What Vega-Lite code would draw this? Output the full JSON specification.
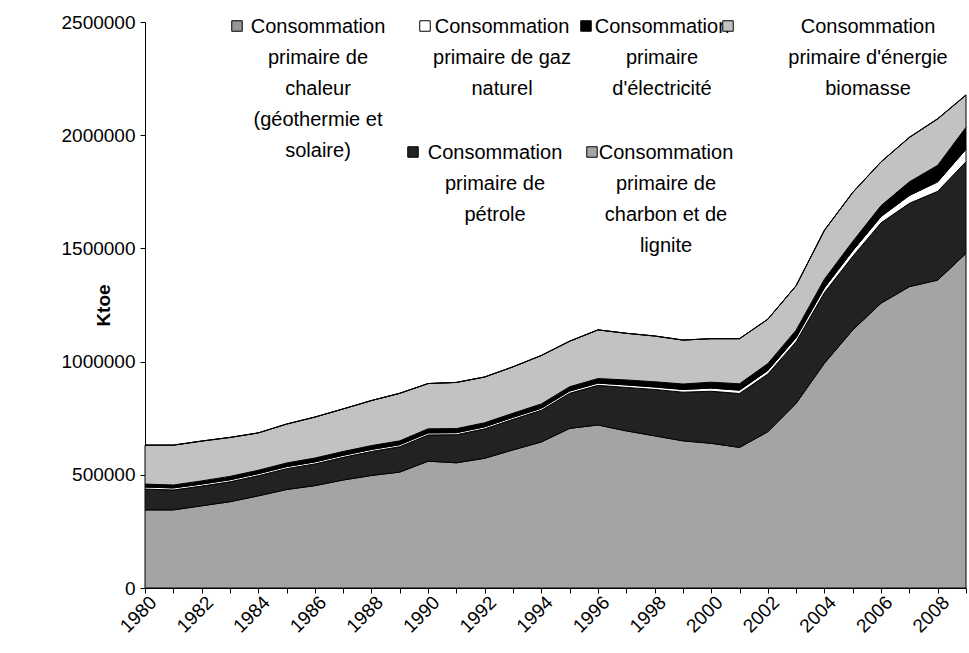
{
  "$schema": "https://vega.github.io/schema/vega-lite/v6.json",
  "width": 821,
  "height": 566,
  "autosize": {"type": "none"},
  "padding": {"left": 145, "top": 22, "right": 3, "bottom": 65},
  "background": "white",
  "config": {
    "font": "Liberation Sans",
    "view": {"stroke": null},
    "axis": {"labelFont": "Liberation Sans", "titleFont": "Liberation Sans", "labelColor": "black", "titleColor": "black", "domainColor": "black", "tickColor": "black", "grid": false},
    "legend": {"labelFont": "Liberation Sans", "labelColor": "black"}
  },
  "datasets": {
    "series": [
      {"s": "charbon", "rang": 1},
      {"s": "petrole", "rang": 2},
      {"s": "gaz", "rang": 3},
      {"s": "electricite", "rang": 4},
      {"s": "biomasse", "rang": 5},
      {"s": "chaleur", "rang": 6}
    ]
  },
  "data": {"values": [
    {"year":1980,"s":"charbon","v":345000},{"year":1980,"s":"petrole","v":92000},{"year":1980,"s":"gaz","v":9000},{"year":1980,"s":"electricite","v":13000},{"year":1980,"s":"biomasse","v":172000},{"year":1980,"s":"chaleur","v":0},
    {"year":1981,"s":"charbon","v":345000},{"year":1981,"s":"petrole","v":88000},{"year":1981,"s":"gaz","v":9000},{"year":1981,"s":"electricite","v":13000},{"year":1981,"s":"biomasse","v":176000},{"year":1981,"s":"chaleur","v":0},
    {"year":1982,"s":"charbon","v":363000},{"year":1982,"s":"petrole","v":87000},{"year":1982,"s":"gaz","v":9000},{"year":1982,"s":"electricite","v":14000},{"year":1982,"s":"biomasse","v":176000},{"year":1982,"s":"chaleur","v":0},
    {"year":1983,"s":"charbon","v":381000},{"year":1983,"s":"petrole","v":88000},{"year":1983,"s":"gaz","v":9000},{"year":1983,"s":"electricite","v":15000},{"year":1983,"s":"biomasse","v":172000},{"year":1983,"s":"chaleur","v":0},
    {"year":1984,"s":"charbon","v":407000},{"year":1984,"s":"petrole","v":89000},{"year":1984,"s":"gaz","v":9000},{"year":1984,"s":"electricite","v":15000},{"year":1984,"s":"biomasse","v":165000},{"year":1984,"s":"chaleur","v":0},
    {"year":1985,"s":"charbon","v":435000},{"year":1985,"s":"petrole","v":92000},{"year":1985,"s":"gaz","v":9000},{"year":1985,"s":"electricite","v":16000},{"year":1985,"s":"biomasse","v":172000},{"year":1985,"s":"chaleur","v":0},
    {"year":1986,"s":"charbon","v":452000},{"year":1986,"s":"petrole","v":96000},{"year":1986,"s":"gaz","v":9000},{"year":1986,"s":"electricite","v":17000},{"year":1986,"s":"biomasse","v":181000},{"year":1986,"s":"chaleur","v":0},
    {"year":1987,"s":"charbon","v":477000},{"year":1987,"s":"petrole","v":100000},{"year":1987,"s":"gaz","v":9000},{"year":1987,"s":"electricite","v":17000},{"year":1987,"s":"biomasse","v":188000},{"year":1987,"s":"chaleur","v":0},
    {"year":1988,"s":"charbon","v":497000},{"year":1988,"s":"petrole","v":106000},{"year":1988,"s":"gaz","v":9000},{"year":1988,"s":"electricite","v":17000},{"year":1988,"s":"biomasse","v":199000},{"year":1988,"s":"chaleur","v":0},
    {"year":1989,"s":"charbon","v":512000},{"year":1989,"s":"petrole","v":112000},{"year":1989,"s":"gaz","v":9000},{"year":1989,"s":"electricite","v":17000},{"year":1989,"s":"biomasse","v":210000},{"year":1989,"s":"chaleur","v":0},
    {"year":1990,"s":"charbon","v":560000},{"year":1990,"s":"petrole","v":116000},{"year":1990,"s":"gaz","v":9000},{"year":1990,"s":"electricite","v":18000},{"year":1990,"s":"biomasse","v":200000},{"year":1990,"s":"chaleur","v":100},
    {"year":1991,"s":"charbon","v":553000},{"year":1991,"s":"petrole","v":124000},{"year":1991,"s":"gaz","v":9000},{"year":1991,"s":"electricite","v":18000},{"year":1991,"s":"biomasse","v":204000},{"year":1991,"s":"chaleur","v":100},
    {"year":1992,"s":"charbon","v":573000},{"year":1992,"s":"petrole","v":130000},{"year":1992,"s":"gaz","v":9000},{"year":1992,"s":"electricite","v":18000},{"year":1992,"s":"biomasse","v":202000},{"year":1992,"s":"chaleur","v":150},
    {"year":1993,"s":"charbon","v":610000},{"year":1993,"s":"petrole","v":135000},{"year":1993,"s":"gaz","v":9000},{"year":1993,"s":"electricite","v":18000},{"year":1993,"s":"biomasse","v":205000},{"year":1993,"s":"chaleur","v":150},
    {"year":1994,"s":"charbon","v":645000},{"year":1994,"s":"petrole","v":140000},{"year":1994,"s":"gaz","v":9000},{"year":1994,"s":"electricite","v":19000},{"year":1994,"s":"biomasse","v":214000},{"year":1994,"s":"chaleur","v":200},
    {"year":1995,"s":"charbon","v":705000},{"year":1995,"s":"petrole","v":155000},{"year":1995,"s":"gaz","v":10000},{"year":1995,"s":"electricite","v":19000},{"year":1995,"s":"biomasse","v":201000},{"year":1995,"s":"chaleur","v":250},
    {"year":1996,"s":"charbon","v":720000},{"year":1996,"s":"petrole","v":175000},{"year":1996,"s":"gaz","v":10000},{"year":1996,"s":"electricite","v":20000},{"year":1996,"s":"biomasse","v":215000},{"year":1996,"s":"chaleur","v":300},
    {"year":1997,"s":"charbon","v":694000},{"year":1997,"s":"petrole","v":192000},{"year":1997,"s":"gaz","v":11000},{"year":1997,"s":"electricite","v":22000},{"year":1997,"s":"biomasse","v":206000},{"year":1997,"s":"chaleur","v":350},
    {"year":1998,"s":"charbon","v":672000},{"year":1998,"s":"petrole","v":205000},{"year":1998,"s":"gaz","v":11000},{"year":1998,"s":"electricite","v":23000},{"year":1998,"s":"biomasse","v":202000},{"year":1998,"s":"chaleur","v":400},
    {"year":1999,"s":"charbon","v":650000},{"year":1999,"s":"petrole","v":215000},{"year":1999,"s":"gaz","v":12000},{"year":1999,"s":"electricite","v":24000},{"year":1999,"s":"biomasse","v":194000},{"year":1999,"s":"chaleur","v":450},
    {"year":2000,"s":"charbon","v":639000},{"year":2000,"s":"petrole","v":230000},{"year":2000,"s":"gaz","v":14000},{"year":2000,"s":"electricite","v":26000},{"year":2000,"s":"biomasse","v":192000},{"year":2000,"s":"chaleur","v":500},
    {"year":2001,"s":"charbon","v":621000},{"year":2001,"s":"petrole","v":238000},{"year":2001,"s":"gaz","v":15000},{"year":2001,"s":"electricite","v":28000},{"year":2001,"s":"biomasse","v":199000},{"year":2001,"s":"chaleur","v":550},
    {"year":2002,"s":"charbon","v":690000},{"year":2002,"s":"petrole","v":255000},{"year":2002,"s":"gaz","v":16000},{"year":2002,"s":"electricite","v":30000},{"year":2002,"s":"biomasse","v":196000},{"year":2002,"s":"chaleur","v":600},
    {"year":2003,"s":"charbon","v":816000},{"year":2003,"s":"petrole","v":272000},{"year":2003,"s":"gaz","v":18000},{"year":2003,"s":"electricite","v":33000},{"year":2003,"s":"biomasse","v":196000},{"year":2003,"s":"chaleur","v":700},
    {"year":2004,"s":"charbon","v":993000},{"year":2004,"s":"petrole","v":312000},{"year":2004,"s":"gaz","v":21000},{"year":2004,"s":"electricite","v":38000},{"year":2004,"s":"biomasse","v":216000},{"year":2004,"s":"chaleur","v":800},
    {"year":2005,"s":"charbon","v":1140000},{"year":2005,"s":"petrole","v":325000},{"year":2005,"s":"gaz","v":25000},{"year":2005,"s":"electricite","v":41000},{"year":2005,"s":"biomasse","v":216000},{"year":2005,"s":"chaleur","v":900},
    {"year":2006,"s":"charbon","v":1258000},{"year":2006,"s":"petrole","v":355000},{"year":2006,"s":"gaz","v":28000},{"year":2006,"s":"electricite","v":48000},{"year":2006,"s":"biomasse","v":193000},{"year":2006,"s":"chaleur","v":1000},
    {"year":2007,"s":"charbon","v":1331000},{"year":2007,"s":"petrole","v":368000},{"year":2007,"s":"gaz","v":35000},{"year":2007,"s":"electricite","v":60000},{"year":2007,"s":"biomasse","v":196000},{"year":2007,"s":"chaleur","v":1100},
    {"year":2008,"s":"charbon","v":1360000},{"year":2008,"s":"petrole","v":392000},{"year":2008,"s":"gaz","v":42000},{"year":2008,"s":"electricite","v":73000},{"year":2008,"s":"biomasse","v":205000},{"year":2008,"s":"chaleur","v":1200},
    {"year":2009,"s":"charbon","v":1478000},{"year":2009,"s":"petrole","v":405000},{"year":2009,"s":"gaz","v":55000},{"year":2009,"s":"electricite","v":97000},{"year":2009,"s":"biomasse","v":142000},{"year":2009,"s":"chaleur","v":1300}
  ]},
  "transform": [
    {"lookup": "s", "from": {"data": {"name": "series"}, "key": "s", "fields": ["rang"]}}
  ],
  "encoding": {
    "x": {"field": "year", "type": "quantitative",
      "scale": {"domain": [1980, 2009], "nice": false, "zero": false},
      "axis": {"title": null, "values": [1980,1981,1982,1983,1984,1985,1986,1987,1988,1989,1990,1991,1992,1993,1994,1995,1996,1997,1998,1999,2000,2001,2002,2003,2004,2005,2006,2007,2008,2009],
        "format": "d", "labelExpr": "datum.value % 2 == 0 ? datum.label : ''",
        "labelAngle": -45, "labelAlign": "right", "labelBaseline": "middle", "labelFontSize": 19, "labelPadding": 6, "labelOffset": 8,
        "tickSize": 5, "labelOverlap": false, "labelBound": false, "labelFlush": false}},
    "y": {"field": "v", "type": "quantitative",
      "scale": {"domain": [0, 2500000], "nice": false},
      "axis": {"title": "Ktoe", "values": [0, 500000, 1000000, 1500000, 2000000, 2500000], "format": "d",
        "labelFontSize": 19, "labelPadding": 5, "tickSize": 5, "labelOverlap": false,
        "titleFontSize": 19, "titleFontWeight": "bold", "titleAngle": -90, "titleX": -42, "titleY": 283, "titleAlign": "center", "titleBaseline": "middle"}}
  },
  "layer": [
    {
      "mark": {"type": "area", "stroke": "black", "strokeWidth": 1, "interpolate": "linear"},
      "encoding": {
        "y": {"field": "v", "type": "quantitative", "stack": "zero"},
        "order": {"field": "rang", "type": "quantitative", "sort": "ascending"},
        "color": {"field": "s", "type": "nominal",
          "scale": {"domain": ["charbon","petrole","gaz","electricite","biomasse","chaleur"], "range": ["#a4a4a4","#222222","#ffffff","#000000","#c2c2c2","#969696"]},
          "legend": null}
      }
    },
    {
      "mark": {"type": "square", "opacity": 0},
      "encoding": {
        "color": {"field": "s", "type": "nominal",
          "scale": {"domain": ["charbon","petrole","gaz","electricite","biomasse","chaleur"], "range": ["#a4a4a4","#222222","#ffffff","#000000","#c2c2c2","#969696"]},
          "legend": {"values": ["chaleur"], "orient": "none", "legendX": 82, "legendY": -6, "title": null, "padding": 0,
            "symbolType": "square", "symbolSize": 110, "symbolOpacity": 1, "symbolStrokeColor": "black", "symbolStrokeWidth": 1,
            "labelFontSize": 20, "labelAlign": "center", "labelBaseline": "alphabetic", "labelLimit": 400, "labelOffset": 71,
            "labelExpr": "['Consommation','primaire de','chaleur','(géothermie et','solaire)']",
            "encode": {"labels": {"update": {"lineHeight": {"value": 31}, "dy": {"value": 7}}}}}}
      }
    },
    {
      "mark": {"type": "square", "opacity": 0},
      "encoding": {
        "color": {"field": "s", "type": "nominal",
          "scale": {"domain": ["charbon","petrole","gaz","electricite","biomasse","chaleur"], "range": ["#a4a4a4","#222222","#ffffff","#000000","#c2c2c2","#969696"]},
          "legend": {"values": ["gaz"], "orient": "none", "legendX": 270, "legendY": -6, "title": null, "padding": 0,
            "symbolType": "square", "symbolSize": 110, "symbolOpacity": 1, "symbolStrokeColor": "black", "symbolStrokeWidth": 1,
            "labelFontSize": 20, "labelAlign": "center", "labelBaseline": "alphabetic", "labelLimit": 400, "labelOffset": 67,
            "labelExpr": "['Consommation','primaire de gaz','naturel']",
            "encode": {"labels": {"update": {"lineHeight": {"value": 31}, "dy": {"value": 7}}}}}}
      }
    },
    {
      "mark": {"type": "square", "opacity": 0},
      "encoding": {
        "color": {"field": "s", "type": "nominal",
          "scale": {"domain": ["charbon","petrole","gaz","electricite","biomasse","chaleur"], "range": ["#a4a4a4","#222222","#ffffff","#000000","#c2c2c2","#969696"]},
          "legend": {"values": ["electricite"], "orient": "none", "legendX": 431, "legendY": -6, "title": null, "padding": 0,
            "symbolType": "square", "symbolSize": 110, "symbolOpacity": 1, "symbolStrokeColor": "black", "symbolStrokeWidth": 1,
            "labelFontSize": 20, "labelAlign": "center", "labelBaseline": "alphabetic", "labelLimit": 400, "labelOffset": 66,
            "labelExpr": "['Consommation','primaire',\"d'électricité\"]",
            "encode": {"labels": {"update": {"lineHeight": {"value": 31}, "dy": {"value": 7}}}}}}
      }
    },
    {
      "mark": {"type": "square", "opacity": 0},
      "encoding": {
        "color": {"field": "s", "type": "nominal",
          "scale": {"domain": ["charbon","petrole","gaz","electricite","biomasse","chaleur"], "range": ["#a4a4a4","#222222","#ffffff","#000000","#c2c2c2","#969696"]},
          "legend": {"values": ["biomasse"], "orient": "none", "legendX": 573, "legendY": -6, "title": null, "padding": 0,
            "symbolType": "square", "symbolSize": 110, "symbolOpacity": 1, "symbolStrokeColor": "black", "symbolStrokeWidth": 1,
            "labelFontSize": 20, "labelAlign": "center", "labelBaseline": "alphabetic", "labelLimit": 400, "labelOffset": 130,
            "labelExpr": "['Consommation',\"primaire d'énergie\",'biomasse']",
            "encode": {"labels": {"update": {"lineHeight": {"value": 31}, "dy": {"value": 7}}}}}}
      }
    },
    {
      "mark": {"type": "square", "opacity": 0},
      "encoding": {
        "color": {"field": "s", "type": "nominal",
          "scale": {"domain": ["charbon","petrole","gaz","electricite","biomasse","chaleur"], "range": ["#a4a4a4","#222222","#ffffff","#000000","#c2c2c2","#969696"]},
          "legend": {"values": ["petrole"], "orient": "none", "legendX": 258, "legendY": 120, "title": null, "padding": 0,
            "symbolType": "square", "symbolSize": 110, "symbolOpacity": 1, "symbolStrokeColor": "black", "symbolStrokeWidth": 1,
            "labelFontSize": 20, "labelAlign": "center", "labelBaseline": "alphabetic", "labelLimit": 400, "labelOffset": 72,
            "labelExpr": "['Consommation','primaire de','pétrole']",
            "encode": {"labels": {"update": {"lineHeight": {"value": 31}, "dy": {"value": 7}}}}}}
      }
    },
    {
      "mark": {"type": "square", "opacity": 0},
      "encoding": {
        "color": {"field": "s", "type": "nominal",
          "scale": {"domain": ["charbon","petrole","gaz","electricite","biomasse","chaleur"], "range": ["#a4a4a4","#222222","#ffffff","#000000","#c2c2c2","#969696"]},
          "legend": {"values": ["charbon"], "orient": "none", "legendX": 437, "legendY": 120, "title": null, "padding": 0,
            "symbolType": "square", "symbolSize": 110, "symbolOpacity": 1, "symbolStrokeColor": "black", "symbolStrokeWidth": 1,
            "labelFontSize": 20, "labelAlign": "center", "labelBaseline": "alphabetic", "labelLimit": 400, "labelOffset": 64,
            "labelExpr": "['Consommation','primaire de','charbon et de','lignite']",
            "encode": {"labels": {"update": {"lineHeight": {"value": 31}, "dy": {"value": 7}}}}}}
      }
    }
  ],
  "resolve": {"scale": {"color": "independent"}}
}
